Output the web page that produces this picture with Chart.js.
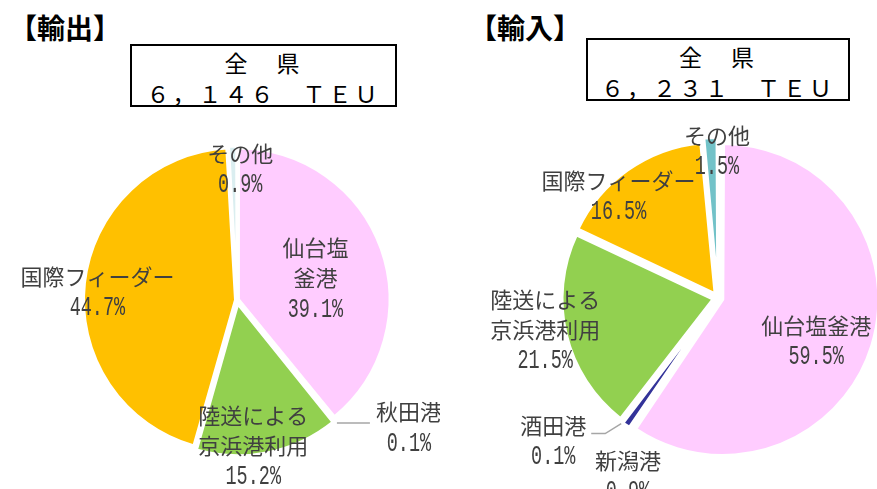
<!DOCTYPE html>
<html lang="ja">
<head>
<meta charset="utf-8">
<script src="https://cdn.jsdelivr.net/npm/chart.js@4.4.0/dist/chart.umd.min.js"></script>
<style>
  body { margin: 0; width: 877px; height: 489px; background: #fff; position: relative; overflow: hidden;
         font-family: "Noto Sans CJK JP", sans-serif; }
  .head { position: absolute; font-size: 28px; font-weight: bold; color: #000; line-height: 32px; }
  .box { position: absolute; border: 2px solid #000; box-sizing: border-box; text-align: center;
         font-size: 23px; line-height: 31px; color: #000; letter-spacing: 3px; padding-top: 1px; }
  canvas { position: absolute; top: 0; }
</style>
</head>
<body>
<div class="head" style="left:9px;top:11px">【輸出】</div>
<div class="box" style="left:130px;top:44px;width:267px;height:63px">全　県<br>６，１４６　ＴＥＵ</div>
<div class="head" style="left:469px;top:11px">【輸入】</div>
<div class="box" style="left:586px;top:38px;width:264px;height:63px">全　県<br>６，２３１　ＴＥＵ</div>

<canvas id="exportPie" width="440" height="489" style="left:0"></canvas>
<canvas id="importPie" width="437" height="489" style="left:440px"></canvas>

<script>
// 輸出
const exportPorts = ['仙台塩釜港', '秋田港', '陸送による京浜港利用', '国際フィーダー', 'その他'];
const exportShares = [39.1, 0.1, 15.2, 44.7, 0.9];
const exportColors = ['#FFCCFF', '#A6A6A6', '#92D050', '#FFC000', '#DAEEF0'];
const exportNames = [['仙台塩', '釜港'], ['秋田港'], ['陸送による', '京浜港利用'], ['国際フィーダー'], ['その他']];

// 輸入
const importPorts = ['仙台塩釜港', '新潟港', '酒田港', '陸送による京浜港利用', '国際フィーダー', 'その他'];
const importShares = [59.5, 0.9, 0.1, 21.5, 16.5, 1.5];
const importColors = ['#FFCCFF', '#333399', '#A6A6A6', '#92D050', '#FFC000', '#72C2C8'];
const importNames = [['仙台塩釜港'], ['新潟港'], ['酒田港'], ['陸送による', '京浜港利用'], ['国際フィーダー'], ['その他']];

// label placement: k = fraction of radius along the slice mid-angle, dx/dy = nudge,
// leader = polyline from the slice edge, text placed relative to its end
const exportPlace = [
  { k: 0.53, dx: 3, dy: 5 },
  { k: 1.05, leader: [[33, 0]], tx: 39, ty: -11 },
  { k: 0.97, dx: -13, dy: 2 },
  { k: 0.93, dx: 0, dy: 7 },
  { k: 0.88, dx: 7, dy: 1 }
];
const importPlace = [
  { k: 0.68, dx: 0, dy: 12 },
  { k: 1.2, dx: 16, dy: 31 },
  { k: 1.05, leader: [[-16, 10], [-14, 0]], tx: -38, ty: -8 },
  { k: 1.15, dx: -4, dy: -9 },
  { k: 0.8, dx: -30, dy: -4 },
  { k: 0.98, dx: 6, dy: 0 }
];

const TEXT = '#404040';

const pieLabels = {
  id: 'pieLabels',
  afterDatasetsDraw(chart, args, opts) {
    const ctx = chart.ctx;
    const meta = chart.getDatasetMeta(0);
    const values = chart.data.datasets[0].data;
    meta.data.forEach((arc, i) => {
      const p = opts.place[i];
      const { x, y, startAngle, endAngle, outerRadius } =
        arc.getProps(['x', 'y', 'startAngle', 'endAngle', 'outerRadius'], true);
      const mid = (startAngle + endAngle) / 2;
      let ax = x + Math.cos(mid) * p.k * outerRadius;
      let ay = y + Math.sin(mid) * p.k * outerRadius;
      ctx.save();
      if (p.leader) {
        ctx.strokeStyle = '#A6A6A6';
        ctx.lineWidth = 1.5;
        ctx.beginPath();
        ctx.moveTo(ax, ay);
        p.leader.forEach(([sx, sy]) => { ax += sx; ay += sy; ctx.lineTo(ax, ay); });
        ctx.stroke();
        ax += p.tx;
        ay += p.ty;
      } else {
        ax += p.dx;
        ay += p.dy;
      }
      const lines = opts.names[i];
      const total = lines.length + 1;
      const lh = 30;
      let ly = p.leader ? ay : ay - (total - 1) * lh / 2;
      ctx.fillStyle = TEXT;
      ctx.textAlign = 'center';
      ctx.textBaseline = 'middle';
      ctx.font = '22px "Noto Sans CJK JP"';
      lines.forEach(t => { ctx.fillText(t, ax, ly); ly += lh; });
      // percentage in a narrow monospace face
      ctx.translate(ax, ly + 1);
      ctx.scale(0.66, 1);
      ctx.font = '28px "Liberation Mono"';
      ctx.fillText(values[i].toFixed(1) + '%', 0, 0);
      ctx.restore();
    });
  }
};

// Chart.js moves an arc by offset / 4 pixels along its mid-angle
function makePie(id, labels, data, colors, offsets, padding, names, place) {
  new Chart(document.getElementById(id), {
    type: 'pie',
    data: {
      labels: labels,
      datasets: [{
        data: data,
        backgroundColor: colors,
        borderColor: '#fff',
        borderWidth: 3,
        offset: offsets
      }]
    },
    options: {
      responsive: false,
      animation: false,
      radius: 151,
      layout: { padding: padding },
      plugins: {
        legend: { display: false },
        tooltip: { enabled: false },
        pieLabels: { names: names, place: place }
      }
    },
    plugins: [pieLabels]
  });
}

makePie('exportPie', exportPorts, exportShares, exportColors, [6, 6, 16, 6, 6],
  { left: 34, top: 111, right: 0, bottom: 0 }, exportNames, exportPlace);
makePie('importPie', importPorts, importShares, importColors, [20, 12, 12, 20, 20, 20],
  { left: 119, top: 107, right: 0, bottom: 0 }, importNames, importPlace);
</script>
</body>
</html>
